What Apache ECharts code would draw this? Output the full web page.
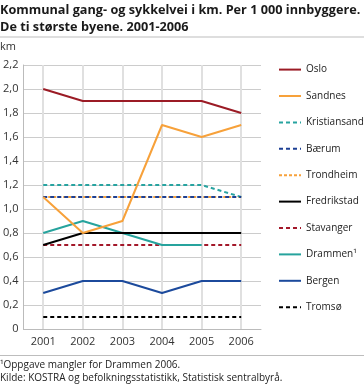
<!DOCTYPE html>
<html><head><meta charset="utf-8">
<script src="https://cdn.jsdelivr.net/npm/echarts@6/dist/echarts.min.js"></script>
<style>html,body{margin:0;padding:0;background:#fff}#c{width:364px;height:386px}</style>
</head><body><div id="c"></div>
<script>
const years = ['2001','2002','2003','2004','2005','2006'];
const yTicks = [0,0.2,0.4,0.6,0.8,1.0,1.2,1.4,1.6,1.8,2.0,2.2];
const oslo = [2.0,1.9,1.9,1.9,1.9,1.8];
const sandnes = [1.1,0.8,0.9,1.7,1.6,1.7];
const kristiansand = [1.2,1.2,1.2,1.2,1.2,1.1];
const baerum = [1.1,1.1,1.1,1.1,1.1,1.1];
const trondheim = [1.1,1.1,1.1,1.1,1.1,1.1];
const fredrikstad = [0.7,0.8,0.8,0.8,0.8,0.8];
const stavanger = [0.7,0.7,0.7,0.7,0.7,0.7];
const drammen = [0.8,0.9,0.8,0.7,0.7,null];
const bergen = [0.3,0.4,0.4,0.3,0.4,0.4];
const tromso = [0.1,0.1,0.1,0.1,0.1,0.1];
const legendOrder = ['Oslo','Sandnes','Kristiansand','Bærum','Trondheim','Fredrikstad','Stavanger','Drammen¹','Bergen','Tromsø'];

const FONT = '"Open Sans", "DejaVu Sans", sans-serif';
function mk(name, data, color, type, z, dash){
  return {name, type:'line', data, symbol:'none', z,
    lineStyle:{color, width:2, type: dash || type}, itemStyle:{color},
    emphasis:{disabled:true}, animation:false};
}
const chart = echarts.init(document.getElementById('c'), null, {renderer:'canvas'});
chart.setOption({
  animation:false,
  textStyle:{fontFamily:FONT},
  title:{text:'Kommunal gang- og sykkelvei i km. Per 1 000 innbyggere.\nDe ti største byene. 2001-2006',
    left:0, top:2, padding:0,
    textStyle:{fontFamily:FONT, fontSize:12.7, fontWeight:'bold', color:'#1a1a1a', lineHeight:17}},
  graphic:[
    {type:'line', shape:{x1:0,y1:37,x2:364,y2:37}, style:{stroke:'#bdbdbd', lineWidth:1}},
    {type:'text', left:0, top:41, style:{text:'km', font:'11px '+FONT, fill:'#333'}},
    {type:'line', shape:{x1:0,y1:355.5,x2:364,y2:355.5}, style:{stroke:'#bdbdbd', lineWidth:1}},
    {type:'text', left:0, top:360, style:{text:'¹Oppgave mangler for Drammen 2006.', font:'10px '+FONT, fill:'#222'}},
    {type:'text', left:0, top:373, style:{text:'Kilde: KOSTRA og befolkningsstatistikk, Statistisk sentralbyrå.', font:'10px '+FONT, fill:'#222'}}
  ],
  grid:{left:21, right:103, top:65, bottom:57, containLabel:false},
  legend:{orient:'vertical', left:273, top:59, itemWidth:22, itemHeight:14, itemGap:15.2,
    data:legendOrder, selectedMode:false,
    itemStyle:{color:'rgba(0,0,0,0)', borderWidth:0, opacity:0},
    textStyle:{fontFamily:FONT, fontSize:10, color:'#222'}},
  xAxis:{type:'category', data:years, boundaryGap:true,
    axisLine:{lineStyle:{color:'#bbb'}}, axisTick:{show:false},
    axisLabel:{fontSize:11, color:'#333', margin:7},
    splitLine:{show:true, alignWithLabel:true, lineStyle:{color:'#e0e0e0', width:2}}},
  yAxis:{type:'value', min:0, max:2.2, interval:0.2,
    axisLine:{show:true, lineStyle:{color:'#bbb'}}, axisTick:{show:false},
    axisLabel:{fontSize:11, color:'#333', margin:5,
      formatter:v=>{ const t=yTicks.find(x=>Math.abs(x-v)<1e-6); const val=t===undefined?v:t; return val===0?'0':val.toFixed(1).replace('.',','); }},
    splitLine:{lineStyle:{color:'#cccccc', width:1}}},
  series:[
    mk('Tromsø', tromso, '#000000', 'dashed', 2, [4,3]),
    mk('Bergen', bergen, '#1c4a9c', 'solid', 2),
    mk('Stavanger', stavanger, '#a3182a', 'dashed', 2, [4,3]),
    mk('Drammen¹', drammen, '#26a39d', 'solid', 2),
    mk('Fredrikstad', fredrikstad, '#000000', 'solid', 3),
    mk('Trondheim', trondheim, '#f7a13a', 'dashed', 2, [3,2]),
    mk('Bærum', baerum, '#1c3f94', 'dashed', 3, [4,3]),
    mk('Kristiansand', kristiansand, '#27a3a0', 'dashed', 2, [4,3]),
    mk('Sandnes', sandnes, '#f7a13a', 'solid', 4),
    mk('Oslo', oslo, '#9b1b25', 'solid', 4)
  ]
});
</script></body></html>
